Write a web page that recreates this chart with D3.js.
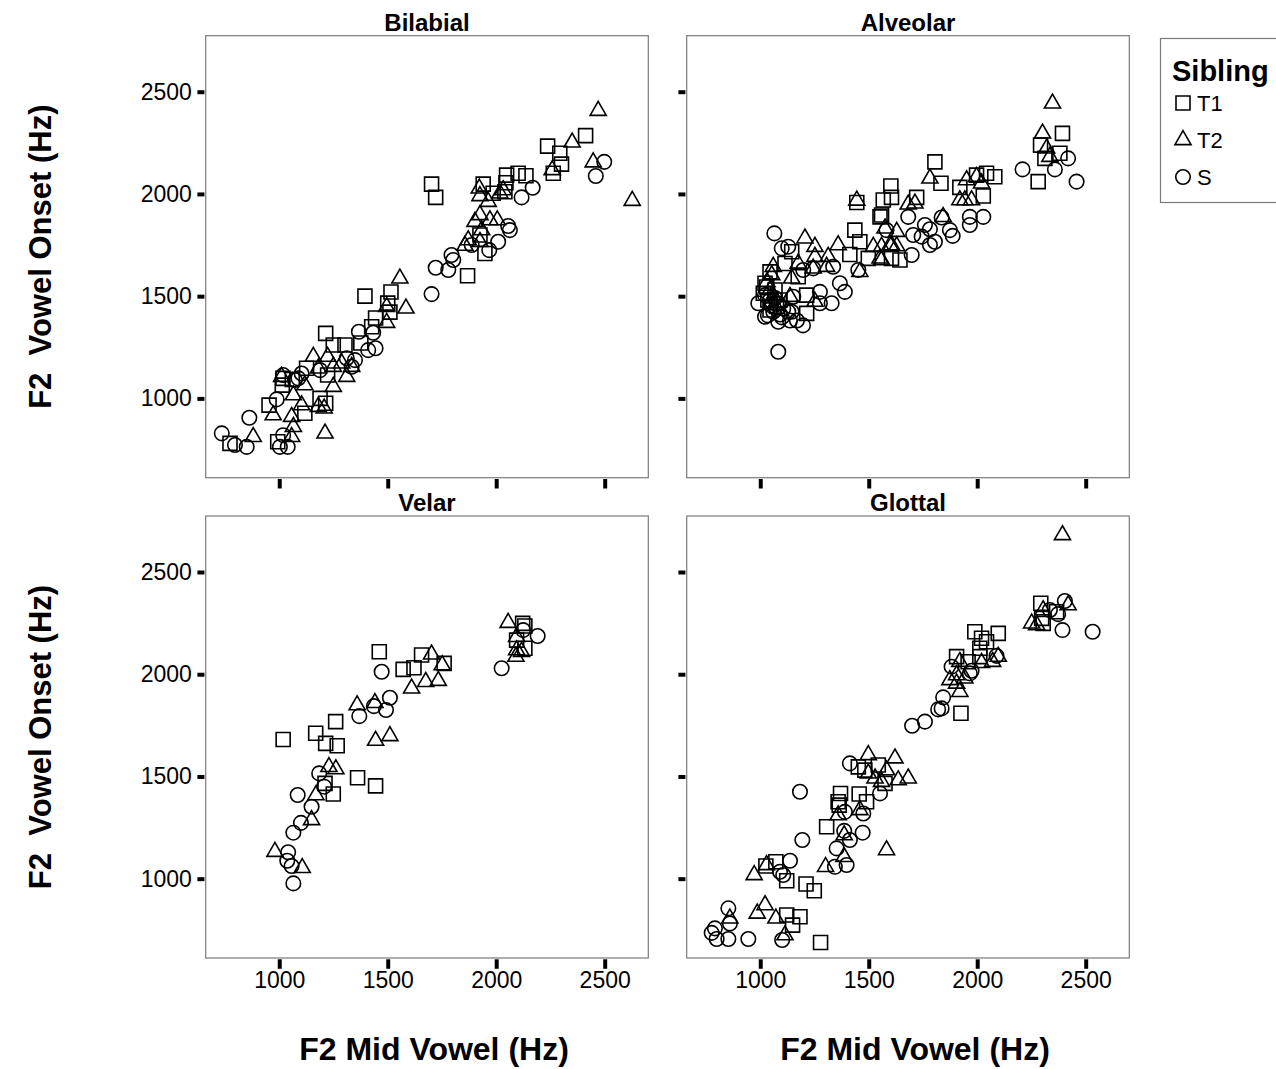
<!DOCTYPE html>
<html>
<head>
<meta charset="utf-8">
<script src="https://cdn.jsdelivr.net/npm/d3@7"></script>
<style>
  body { margin: 0; background: #fff; }
  text { font-family: "Liberation Sans", Arial, sans-serif; fill: #000; }
</style>
</head>
<body>
<svg id="chart" width="1276" height="1069"></svg>
<script>
// F2 at vowel onset vs F2 at mid vowel, by place of articulation and sibling.
const places = ["Bilabial", "Alveolar", "Velar", "Glottal"];
const siblings = ["T1", "T2", "S"];
const xTicks = [1000, 1500, 2000, 2500];
const yTicks = [1000, 1500, 2000, 2500];

const bilabialT1 = [[1395,1500],[1515,1520],[1500,1466],[1510,1422],[1444,1393],[1426,1350],[1214,1318],[1249,1261],[1303,1261],[1376,1271],[1126,1147],[1223,1114],[1017,1098],[1014,1065],[1060,1093],[1188,1000],[1214,976],[1118,927],[953,967],[773,780],[993,788],[1702,2048],[1721,1983],[1940,2048],[2048,2092],[2101,2101],[2137,2089],[2045,2055],[2040,2011],[2237,2234],[2293,2199],[2301,2146],[2263,2101],[2412,2285],[1925,1799],[1948,1709],[1868,1600],[1986,2003]];
const bilabialT2 = [[1556,1587],[1584,1440],[1495,1448],[1495,1370],[1157,1204],[1223,1204],[1288,1171],[1334,1155],[1311,1106],[1180,1147],[1249,1155],[1011,1106],[1118,1065],[1249,1057],[1065,1016],[1103,967],[1180,959],[1207,951],[972,918],[1057,910],[1065,861],[880,812],[1057,812],[1211,829],[2470,2407],[2350,2252],[2447,2155],[2258,2117],[2627,1967],[1922,2027],[1925,1990],[1963,1962],[2017,2003],[2032,2019],[1925,1897],[1902,1864],[1971,1872],[2005,1872],[1933,1823],[1871,1774],[1856,1747],[1925,1766]];
const bilabialS = [[1367,1326],[1433,1321],[1410,1236],[1444,1245],[1311,1196],[1349,1187],[1334,1155],[1188,1138],[1103,1122],[1088,1098],[1018,1114],[1072,1090],[988,995],[862,905],[735,829],[796,772],[850,763],[1018,820],[1003,763],[1039,763],[2498,2157],[2459,2088],[2168,2030],[2117,1983],[2055,1843],[2063,1823],[2009,1766],[1968,1725],[1887,1750],[1794,1701],[1802,1677],[1721,1639],[1779,1628],[1702,1510]];

const alveolarT1 = [[1436,1823],[1459,1766],[1552,1888],[1413,1704],[1145,1717],[1114,1660],[1045,1619],[1022,1563],[1175,1595],[1214,1505],[1214,1416],[1014,1514],[1068,1530],[1498,1685],[1605,1685],[1805,2157],[1833,2052],[1602,2039],[1605,1983],[1721,1983],[1567,1970],[1559,1897],[1644,1677],[1920,2032],[1997,2092],[2043,2101],[2081,2084],[2028,1990],[2393,2296],[2292,2239],[2312,2174],[2381,2199],[2281,2060],[1035,1481],[1045,1432],[1091,1481],[1445,1958],[1030,1545],[1075,1450]];
const alveolarT2 = [[1206,1783],[1252,1742],[1252,1693],[1359,1750],[1313,1693],[1306,1644],[1244,1636],[1175,1660],[1060,1644],[1053,1603],[1145,1587],[1137,1497],[1252,1473],[1459,1619],[1521,1742],[1559,1742],[1552,1685],[1605,1750],[2347,2443],[2301,2296],[2320,2223],[2335,2182],[1782,2076],[1682,1949],[1713,1954],[1951,2068],[1997,2084],[2020,2052],[1920,1970],[1943,1970],[1974,1970],[1843,1888],[1575,1832],[1629,1815],[1598,1750],[1629,1745],[1559,1677],[1045,1530],[1068,1457],[1031,1569],[1445,1968],[1060,1500]];
const alveolarS = [[1065,1807],[1099,1734],[1129,1742],[1198,1628],[1244,1636],[1336,1644],[1367,1563],[1390,1521],[1275,1521],[1329,1465],[1275,1465],[1152,1497],[991,1465],[1022,1505],[1083,1465],[1060,1424],[1022,1399],[1083,1375],[1129,1424],[1145,1424],[1106,1440],[1083,1228],[1452,1628],[1582,1823],[2419,2174],[2358,2120],[2209,2120],[2458,2060],[1682,1888],[1836,1885],[1759,1848],[1782,1827],[1705,1799],[1744,1791],[1805,1766],[1782,1750],[1874,1823],[1887,1795],[1966,1888],[2028,1888],[1966,1848],[1698,1701],[1045,1481],[1068,1491],[1035,1406],[1100,1396],[1137,1381],[1169,1381],[1197,1357],[1050,1455],[1092,1410]];

const velarT1 = [[1461,2110],[1656,2094],[1760,2053],[1571,2024],[1621,2032],[2122,2249],[2132,2236],[2094,2167],[2132,2127],[1260,1768],[1018,1681],[1168,1711],[1214,1662],[1267,1650],[1361,1494],[1444,1454],[1211,1466],[1249,1414]];
const velarT2 = [[2055,2252],[1702,2097],[1751,2045],[1610,1931],[1675,1963],[1733,1968],[1359,1849],[1441,1860],[1444,1675],[1510,1698],[1229,1547],[1261,1536],[1169,1409],[1149,1287],[980,1132],[1106,1053],[2094,2183],[2094,2118],[2091,2086],[2117,2110]];
const velarS = [[2191,2187],[2124,2216],[2025,2029],[1472,2012],[1510,1885],[1436,1844],[1492,1825],[1369,1795],[1184,1515],[1207,1450],[1085,1409],[1149,1352],[1100,1273],[1065,1225],[1041,1129],[1037,1088],[1057,1062],[1065,977]];

const glottalT1 = [[1370,1417],[1359,1376],[1364,1360],[1456,1414],[1490,1376],[1452,1547],[1482,1531],[1544,1556],[1306,1254],[1026,1062],[1072,1083],[1122,990],[1211,974],[1249,941],[1122,822],[1183,814],[1149,773],[1278,688],[1575,1466],[2293,2347],[2297,2273],[2304,2249],[2366,2306],[1989,2208],[2097,2200],[2020,2176],[2043,2159],[2012,2127],[1905,2086],[1958,2061],[2012,2086],[1925,1809]];
const glottalT2 = [[1498,1605],[1621,1589],[1682,1491],[1636,1482],[1582,1531],[1559,1474],[1459,1336],[1359,1311],[1582,1140],[1386,1107],[1301,1058],[1387,1213],[1029,1067],[972,1018],[1022,871],[986,830],[1072,806],[860,806],[1114,724],[1498,1515],[1529,1491],[2393,2681],[2419,2338],[2304,2314],[2251,2249],[2274,2241],[1920,2061],[2020,2056],[2071,2061],[2097,2086],[1874,1972],[1905,1996],[1943,1980],[1905,1955],[1920,1914]];
const glottalS = [[1413,1564],[1183,1425],[1552,1417],[1390,1327],[1475,1319],[1194,1189],[1387,1234],[1413,1189],[1472,1225],[1352,1148],[1137,1088],[1344,1058],[1398,1067],[1091,1034],[1106,1018],[853,855],[860,781],[791,757],[776,735],[799,705],[853,705],[945,705],[1101,700],[2404,2358],[2335,2314],[2373,2294],[2393,2216],[2532,2208],[2089,2090],[1882,2037],[1974,2017],[1966,2004],[1843,1887],[1820,1828],[1836,1833],[1759,1768],[1700,1748]];

const panelData = {
  Bilabial: { T1: bilabialT1, T2: bilabialT2, S: bilabialS },
  Alveolar: { T1: alveolarT1, T2: alveolarT2, S: alveolarS },
  Velar:    { T1: velarT1,    T2: velarT2,    S: velarS },
  Glottal:  { T1: glottalT1,  T2: glottalT2,  S: glottalS }
};

// layout
const W = 442.6, H = 442;
const colX = [205.7, 686.7];
const rowY = [35.7, 516];

const x = d3.scaleLinear().domain([661, 2701]).range([0, W]);
const y = d3.scaleLinear().domain([612, 2774]).range([H, 0]);

const symbolType = { T1: d3.symbolSquare, T2: d3.symbolTriangle, S: d3.symbolCircle };
const symbolSize = { T1: 196, T2: 112, S: 165 };
const symbolPath = k => d3.symbol().type(symbolType[k]).size(symbolSize[k])();

const svg = d3.select("#chart");
svg.append("rect").attr("width", 1276).attr("height", 1069).attr("fill", "#fff");

places.forEach((place, i) => {
  const col = i % 2, row = Math.floor(i / 2);
  const g = svg.append("g").attr("transform", `translate(${colX[col]},${rowY[row]})`);

  g.append("rect")
    .attr("width", W).attr("height", H)
    .attr("fill", "none").attr("stroke", "#7a7a7a").attr("stroke-width", 1.2);

  // x axis (labels on bottom row only)
  const xa = g.append("g").attr("transform", `translate(0,${H + 1.3})`)
    .call(d3.axisBottom(x).tickValues(xTicks).tickSizeInner(9.5).tickSizeOuter(0).tickPadding(3)
      .tickFormat(row === 1 ? d3.format("d") : () => ""));
  xa.select(".domain").remove();
  xa.selectAll(".tick line").attr("stroke", "#000").attr("stroke-width", 4);
  xa.selectAll(".tick text").attr("font-size", 23).attr("font-family", "Liberation Sans, Arial, sans-serif").attr("fill", "#000");

  // y axis (labels on left column only)
  const ya = g.append("g").attr("transform", `translate(-1.3,0)`)
    .call(d3.axisLeft(y).tickValues(yTicks).tickSizeInner(7).tickSizeOuter(0).tickPadding(5.5)
      .tickFormat(col === 0 ? d3.format("d") : () => ""));
  ya.select(".domain").remove();
  ya.selectAll(".tick line").attr("stroke", "#000").attr("stroke-width", 4);
  ya.selectAll(".tick text").attr("font-size", 23).attr("font-family", "Liberation Sans, Arial, sans-serif").attr("fill", "#000");

  // panel title
  g.append("text")
    .attr("x", W / 2).attr("y", -5)
    .attr("text-anchor", "middle")
    .attr("font-size", 24).attr("font-weight", "bold")
    .text(place);

  // points
  siblings.forEach(k => {
    g.append("g").selectAll("path")
      .data(panelData[place][k])
      .join("path")
      .attr("d", symbolPath(k))
      .attr("transform", d => `translate(${x(d[0])},${y(d[1])})`)
      .attr("fill", "none")
      .attr("stroke", "#000")
      .attr("stroke-width", 1.6);
  });
});

// axis titles
[0, 1].forEach(col => {
  svg.append("text")
    .attr("x", colX[col] + W / 2 + 7).attr("y", 1060)
    .attr("text-anchor", "middle")
    .attr("font-size", 32).attr("font-weight", "bold")
    .text("F2 Mid Vowel (Hz)");
});
[0, 1].forEach(row => {
  svg.append("text")
    .attr("transform", `translate(51,${rowY[row] + H / 2}) rotate(-90)`)
    .attr("text-anchor", "middle")
    .attr("font-size", 31).attr("font-weight", "bold")
    .style("white-space", "pre")
    .text("F2  Vowel Onset (Hz)");
});

// legend
const lg = svg.append("g");
lg.append("rect")
  .attr("x", 1160.5).attr("y", 38.5).attr("width", 140).attr("height", 164)
  .attr("fill", "#fff").attr("stroke", "#7a7a7a").attr("stroke-width", 1.2);
lg.append("text")
  .attr("x", 1172).attr("y", 81)
  .attr("font-size", 29).attr("font-weight", "bold")
  .text("Sibling");
const legendRowY = [103, 140, 177];
siblings.forEach((k, i) => {
  lg.append("path")
    .attr("d", symbolPath(k))
    .attr("transform", `translate(1183,${legendRowY[i]})`)
    .attr("fill", "none").attr("stroke", "#000").attr("stroke-width", 1.6);
  lg.append("text")
    .attr("x", 1197).attr("y", legendRowY[i]).attr("dy", "0.36em")
    .attr("font-size", 22)
    .text(k);
});
</script>
</body>
</html>
